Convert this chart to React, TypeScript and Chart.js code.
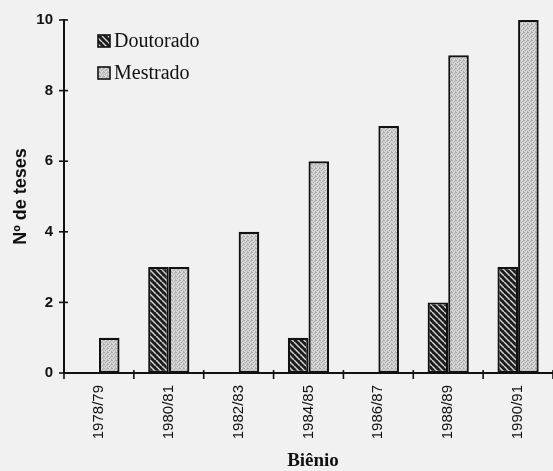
import React, { useEffect, useRef } from "react";
import { Chart, registerables } from "chart.js";

Chart.register(...registerables);

const categories = ["1978/79", "1980/81", "1982/83", "1984/85", "1986/87", "1988/89", "1990/91"];
const doutorado = [0, 3, 0, 1, 0, 2, 3];
const mestrado = [1, 3, 4, 6, 7, 9, 10];
const yTicks = [0, 2, 4, 6, 8, 10];
const seriesLabels = ["Doutorado", "Mestrado"];
const yTitle = "Nº de teses";
const xTitle = "Biênio";

function makeHatch(): CanvasPattern | string {
  const c = document.createElement("canvas");
  c.width = 6;
  c.height = 6;
  const g = c.getContext("2d");
  if (!g) return "#333";
  g.fillStyle = "#1c1c1c";
  g.fillRect(0, 0, 6, 6);
  g.strokeStyle = "#d0d0d0";
  g.lineWidth = 1.5;
  for (const off of [-6, 0, 6]) {
    g.beginPath();
    g.moveTo(off, 0);
    g.lineTo(off + 6, 6);
    g.stroke();
  }
  const p = g.createPattern(c, "repeat");
  return p || "#333";
}

function makeDots(): CanvasPattern | string {
  const c = document.createElement("canvas");
  c.width = 4;
  c.height = 4;
  const g = c.getContext("2d");
  if (!g) return "#c8c8c8";
  g.fillStyle = "#d2d2d2";
  g.fillRect(0, 0, 4, 4);
  g.fillStyle = "#a9a9a9";
  const pts = [[0, 0], [2, 1], [1, 2], [3, 3], [3, 0]];
  for (const [x, y] of pts) g.fillRect(x, y, 1, 1);
  g.fillStyle = "#e0e0e0";
  g.fillRect(1, 0, 1, 1);
  g.fillRect(2, 3, 1, 1);
  const p = g.createPattern(c, "repeat");
  return p || "#c8c8c8";
}

export default function App() {
  const ref = useRef<HTMLCanvasElement | null>(null);

  useEffect(() => {
    const canvas = ref.current;
    if (!canvas) return;
    document.body.style.background = "#f1f1f1";
    const hatch = makeHatch();
    const dots = makeDots();
    const fills = [hatch, dots];

    const decor = {
      id: "decor",
      afterDraw(chart: any) {
        const ctx = chart.ctx as CanvasRenderingContext2D;
        const area = chart.chartArea;
        const ys = chart.scales.y;
        ctx.save();
        ctx.strokeStyle = "#111";
        ctx.lineWidth = 1.6;
        for (const v of yTicks) {
          const py = ys.getPixelForValue(v);
          ctx.beginPath();
          ctx.moveTo(area.left - 5, py);
          ctx.lineTo(area.left + 4, py);
          ctx.stroke();
        }
        const n = categories.length;
        for (let i = 0; i <= n; i++) {
          const px = area.left + (i * (area.right - area.left)) / n;
          ctx.beginPath();
          ctx.moveTo(px, area.bottom - 3);
          ctx.lineTo(px, area.bottom + 6);
          ctx.stroke();
        }
        const rows = [41, 73];
        ctx.font = "20px 'Liberation Serif'";
        ctx.textBaseline = "middle";
        ctx.textAlign = "left";
        for (let i = 0; i < 2; i++) {
          const cy = rows[i];
          ctx.fillStyle = fills[i] as any;
          ctx.fillRect(98, cy - 6, 12, 12);
          ctx.lineWidth = 1.6;
          ctx.strokeRect(98, cy - 6, 12, 12);
          ctx.fillStyle = "#111";
          ctx.fillText(chart.data.datasets[i].label, 114, cy + 1);
        }
        ctx.fillStyle = "#111";
        ctx.font = "bold 18px 'Liberation Sans'";
        ctx.textAlign = "center";
        ctx.save();
        ctx.translate(21, (area.top + area.bottom) / 2);
        ctx.rotate(-Math.PI / 2);
        ctx.fillText(yTitle, 0, 0);
        ctx.restore();
        ctx.font = "bold 19px 'Liberation Serif'";
        ctx.fillText(xTitle, 313, 461);
        ctx.restore();
      },
    };

    const chart = new Chart(canvas, {
      type: "bar",
      data: {
        labels: categories,
        datasets: [
          {
            label: seriesLabels[0],
            data: doutorado,
            backgroundColor: hatch as any,
            borderColor: "#111",
            borderWidth: 2.2,
            borderSkipped: false,
          },
          {
            label: seriesLabels[1],
            data: mestrado,
            backgroundColor: dots as any,
            borderColor: "#111",
            borderWidth: 2.2,
            borderSkipped: false,
          },
        ],
      },
      options: {
        responsive: false,
        animation: false,
        devicePixelRatio: 1,
        layout: { padding: { top: 20, right: 0, left: 0, bottom: 0 } },
        datasets: { bar: { categoryPercentage: 0.59, barPercentage: 1 } },
        plugins: {
          legend: { display: false },
          tooltip: { enabled: false },
          title: { display: false },
        },
        scales: {
          x: {
            grid: { display: false },
            border: { display: true, color: "#111", width: 2 },
            ticks: {
              minRotation: 90,
              maxRotation: 90,
              padding: 4,
              color: "#111",
              font: { family: "'Liberation Sans'", size: 15 },
            },
            afterFit: (s: any) => {
              s.height = 98;
            },
          },
          y: {
            min: 0,
            max: 10,
            grid: { display: false },
            border: { display: true, color: "#111", width: 2 },
            ticks: {
              stepSize: 2,
              padding: 3,
              color: "#111",
              font: { family: "'Liberation Sans'", size: 15, weight: "bold" },
            },
            afterFit: (s: any) => {
              s.width = 64;
            },
          },
        },
      },
      plugins: [decor],
    } as any);

    return () => {
      chart.destroy();
    };
  }, []);

  return (
    <div style={{ position: "fixed", left: 0, top: 0, width: 553, height: 471, background: "#f1f1f1" }}>
      <canvas ref={ref} width={553} height={471} style={{ display: "block" }} />
    </div>
  );
}
